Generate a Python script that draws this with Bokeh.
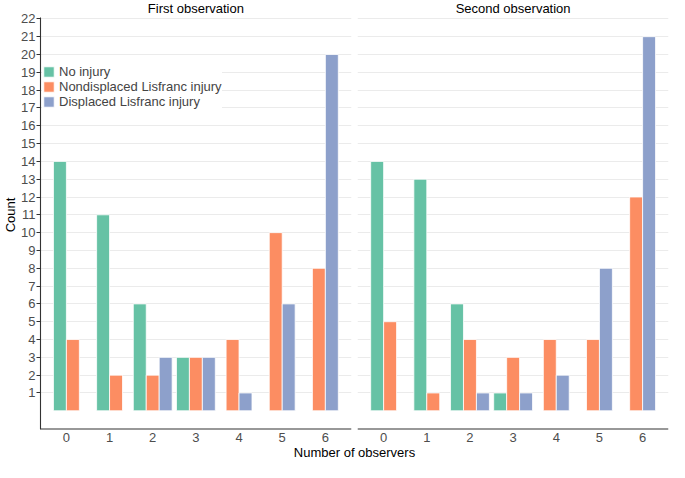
from bokeh.plotting import figure
from bokeh.models import FixedTicker, Range1d, Label, Legend, LegendItem, ColumnDataSource
from bokeh.embed import file_html
from bokeh.resources import INLINE

# ---- data ----
observers = [0, 1, 2, 3, 4, 5, 6]
series = ["No injury", "Nondisplaced Lisfranc injury", "Displaced Lisfranc injury"]
colors = ["#66C2A5", "#FC8D62", "#8DA0CB"]
panels = ["First observation", "Second observation"]

first_no_injury = [14, 11, 6, 3, 0, 0, 0]
first_nondisplaced = [4, 2, 2, 3, 4, 10, 8]
first_displaced = [0, 0, 3, 3, 1, 6, 20]

second_no_injury = [14, 13, 6, 1, 0, 0, 0]
second_nondisplaced = [5, 1, 4, 3, 4, 4, 12]
second_displaced = [0, 0, 1, 1, 2, 8, 21]

y_ticks = list(range(1, 23))

# ---- layout constants ----
PANEL_HALF = 0.6
GAP = 0.15
OFFSET = round(2 * PANEL_HALF + 6 + GAP, 2)  # x shift of second panel
BAR_W = 0.3
Y0, Y1 = -1.05, 22.07
Y_TOP = 23.03  # room for panel titles
FONT = "Liberation Sans"

panel_data = [
    [first_no_injury, first_nondisplaced, first_displaced],
    [second_no_injury, second_nondisplaced, second_displaced],
]

# dodge only among present (non-zero) bars, centered on the tick
xs = {s: [] for s in range(3)}
tops = {s: [] for s in range(3)}
for pi, data in enumerate(panel_data):
    shift = pi * OFFSET
    for j, obs in enumerate(observers):
        present = [s for s in range(3) if data[s][j] > 0]
        n = len(present)
        for k, s in enumerate(present):
            xs[s].append(obs + shift + (k - (n - 1) / 2) * BAR_W)
            tops[s].append(data[s][j])

p = figure(width=669, height=462, output_backend="svg", toolbar_location=None,
           x_range=Range1d(-PANEL_HALF, OFFSET + 6 + PANEL_HALF),
           y_range=Range1d(Y0, Y_TOP),
           min_border_left=0, min_border_right=1, min_border_top=0, min_border_bottom=0)
p.outline_line_color = None
p.background_fill_color = "white"

# gridlines
p.xgrid.visible = False
p.ygrid.ticker = FixedTicker(ticks=y_ticks)
p.ygrid.grid_line_color = "#ebebeb"
p.ygrid.grid_line_width = 1

# white gap between panels
p.quad(left=[6 + PANEL_HALF], right=[OFFSET - PANEL_HALF], bottom=[Y0], top=[Y_TOP],
       fill_color="white", line_color=None)

renderers = []
for s in range(3):
    src = ColumnDataSource(dict(x=xs[s], top=tops[s]))
    r = p.vbar(x="x", top="top", bottom=0, width=BAR_W, source=src,
               fill_color=colors[s], line_color="white", line_width=0.8)
    renderers.append(r)

# panel x-axis lines
p.segment(x0=[-PANEL_HALF, OFFSET - PANEL_HALF], x1=[6 + PANEL_HALF, OFFSET + 6 + PANEL_HALF],
          y0=[Y0, Y0], y1=[Y0, Y0], line_color="#333333", line_width=2.2)

# x axis
xticks = [float(o) for o in observers] + [round(o + OFFSET, 2) for o in observers]
p.xaxis.ticker = FixedTicker(ticks=xticks)
p.xaxis.major_label_overrides = {t: str(observers[i % 7]) for i, t in enumerate(xticks)}
p.xaxis.axis_line_color = None
p.xaxis.major_tick_line_color = None
p.xaxis.major_tick_out = 0
p.xaxis.major_tick_in = 0
p.xaxis.minor_tick_line_color = None
p.xaxis.minor_tick_out = 0
p.xaxis.major_label_text_font = FONT
p.xaxis.major_label_text_font_size = "13px"
p.xaxis.major_label_text_color = "#4d4d4d"
p.xaxis.major_label_standoff = 3
p.xaxis.axis_label = "Number of observers"
p.xaxis.axis_label_text_font = FONT
p.xaxis.axis_label_text_font_size = "13px"
p.xaxis.axis_label_text_font_style = "normal"
p.xaxis.axis_label_text_color = "black"
p.xaxis.axis_label_standoff = 0

# y axis
p.yaxis.ticker = FixedTicker(ticks=y_ticks)
p.yaxis.bounds = (Y0, Y1)
p.yaxis.axis_line_color = "#333333"
p.yaxis.axis_line_width = 1.1
p.yaxis.major_tick_line_color = "#333333"
p.yaxis.major_tick_out = 4
p.yaxis.major_tick_in = 0
p.yaxis.minor_tick_line_color = None
p.yaxis.minor_tick_out = 0
p.yaxis.major_label_text_font = FONT
p.yaxis.major_label_text_font_size = "13px"
p.yaxis.major_label_text_color = "#4d4d4d"
p.yaxis.major_label_standoff = 1
p.yaxis.axis_label = "Count"
p.yaxis.axis_label_text_font = FONT
p.yaxis.axis_label_text_font_size = "13px"
p.yaxis.axis_label_text_font_style = "normal"
p.yaxis.axis_label_text_color = "black"
p.yaxis.axis_label_standoff = 0

# panel titles
for pi, name in enumerate(panels):
    p.add_layout(Label(x=3 + pi * OFFSET, y=Y1, y_offset=9, text=name,
                       text_align="center", text_baseline="middle",
                       text_font=FONT, text_font_size="13px", text_color="black"))

legend = Legend(items=[LegendItem(label=series[s], renderers=[renderers[s]]) for s in range(3)],
                location=(2, 320), padding=3, spacing=-2, margin=0,
                glyph_width=13, glyph_height=13, label_height=14, label_standoff=4,
                label_text_font=FONT, label_text_font_size="13px",
                background_fill_color="white", background_fill_alpha=1.0,
                border_line_color=None)
p.add_layout(legend, "center")

open("out.html", "w").write(file_html(p, INLINE))
